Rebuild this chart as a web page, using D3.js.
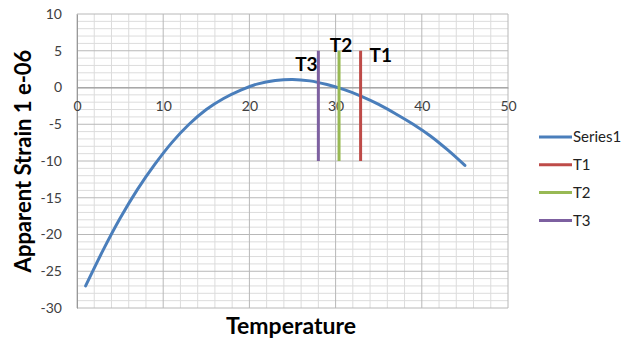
<!DOCTYPE html>
<html>
<head>
<meta charset="utf-8">
<script src="https://cdn.jsdelivr.net/npm/d3@7"></script>
<style>
  body { margin: 0; background: #fff; }
  svg text { font-family: Lato, "Open Sans", sans-serif; }
</style>
</head>
<body>
<div id="chart-container"></div>
<script>
// Series1 curve (temperature vs apparent strain)
const temps = [1, 3, 5, 7, 9, 11, 13, 15, 17, 19, 21, 23, 25, 27, 29, 31, 33, 35, 37, 39, 41, 43, 45];
const strain = [-27.0, -22.2, -17.8, -13.9, -10.5, -7.5, -5.0, -3.0, -1.5, -0.35, 0.5, 0.95, 1.1, 0.9, 0.4, -0.3, -1.2, -2.3, -3.6, -5.0, -6.6, -8.5, -10.6];

// vertical marker lines
const markerNames = ["T1", "T2", "T3"];
const markerTemps = [32.9, 30.4, 28.0];
const markerTop = 5;
const markerBottom = -10;

const xTicks = [0, 10, 20, 30, 40, 50];
const yTicks = [10, 5, 0, -5, -10, -15, -20, -25, -30];
const legendNames = ["Series1", "T1", "T2", "T3"];

const colors = {Series1: "#4a7ebb", T1: "#be4b48", T2: "#98b954", T3: "#7d60a0"};

const width = 629, height = 339;
const plot = {left: 77, right: 508, top: 14, bottom: 308};

const svg = d3.select("#chart-container")
    .append("svg")
    .attr("width", width)
    .attr("height", height);

const x = d3.scaleLinear().domain([0, 50]).range([plot.left, plot.right]);
const y = d3.scaleLinear().domain([-30, 10]).range([plot.bottom, plot.top]);

// minor grid
svg.append("g")
    .selectAll("line")
    .data(d3.range(-30, 11, 1).filter(v => v % 5 !== 0))
    .enter().append("line")
    .attr("x1", plot.left).attr("x2", plot.right)
    .attr("y1", d => y(d)).attr("y2", d => y(d))
    .attr("stroke", "#dcdcdc").attr("stroke-width", 1);

svg.append("g")
    .selectAll("line")
    .data(d3.range(0, 51, 2).filter(v => v % 10 !== 0))
    .enter().append("line")
    .attr("y1", plot.top).attr("y2", plot.bottom)
    .attr("x1", d => x(d)).attr("x2", d => x(d))
    .attr("stroke", "#dcdcdc").attr("stroke-width", 1);

// major grid
svg.append("g")
    .selectAll("line")
    .data(yTicks)
    .enter().append("line")
    .attr("x1", plot.left).attr("x2", plot.right)
    .attr("y1", d => y(d)).attr("y2", d => y(d))
    .attr("stroke", "#b8b8b8").attr("stroke-width", 1);

svg.append("g")
    .selectAll("line")
    .data(xTicks)
    .enter().append("line")
    .attr("y1", plot.top).attr("y2", plot.bottom)
    .attr("x1", d => x(d)).attr("x2", d => x(d))
    .attr("stroke", "#b8b8b8").attr("stroke-width", 1);

// axes (plain hyphen for negatives, like the original)
const yAxis = svg.append("g")
    .attr("transform", `translate(${plot.left},0)`)
    .call(d3.axisLeft(y).tickValues(yTicks).tickFormat(d => String(d)).tickSize(0).tickPadding(15));
yAxis.select(".domain").attr("stroke", "#999");
yAxis.selectAll("text").style("font-size", "14px").attr("fill", "#404040");

const xAxis = svg.append("g")
    .attr("transform", `translate(0,${y(0)})`)
    .call(d3.axisBottom(x).tickValues(xTicks).tickFormat(d => String(d)).tickSize(0).tickPadding(14));
xAxis.select(".domain").attr("stroke", "#999");
xAxis.selectAll("text").style("font-size", "14px").attr("fill", "#404040");

// series line
const line = d3.line()
    .x((d, i) => x(temps[i]))
    .y(d => y(d))
    .curve(d3.curveCatmullRom);

svg.append("path")
    .datum(strain)
    .attr("d", line)
    .attr("fill", "none")
    .attr("stroke", colors.Series1)
    .attr("stroke-width", 3)
    .attr("stroke-linecap", "round");

// marker lines
svg.append("g")
    .selectAll("line")
    .data(markerNames)
    .enter().append("line")
    .attr("x1", (d, i) => x(markerTemps[i]))
    .attr("x2", (d, i) => x(markerTemps[i]))
    .attr("y1", y(markerTop))
    .attr("y2", y(markerBottom))
    .attr("stroke", d => colors[d])
    .attr("stroke-width", 3);

// marker labels (offsets as in the picture)
const labelPos = {T1: [9, 11], T2: [2, 1], T3: [-12, 20]};
svg.append("g")
    .selectAll("text")
    .data(markerNames)
    .enter().append("text")
    .attr("x", (d, i) => x(markerTemps[i]) + labelPos[d][0])
    .attr("y", d => y(markerTop) + labelPos[d][1])
    .attr("text-anchor", d => d === "T1" ? "start" : "middle")
    .style("font-size", "19px")
    .style("font-weight", "bold")
    .attr("fill", "#000")
    .text(d => d);

// axis titles
svg.append("text")
    .attr("x", 291)
    .attr("y", 334)
    .attr("text-anchor", "middle")
    .style("font-size", "23px")
    .style("font-weight", "bold")
    .attr("fill", "#000")
    .text("Temperature");

svg.append("text")
    .attr("transform", "translate(31,161) rotate(-90)")
    .attr("text-anchor", "middle")
    .style("font-size", "22px")
    .style("font-weight", "bold")
    .attr("fill", "#000")
    .text("Apparent Strain 1 e-06");

// legend
const legend = svg.append("g")
    .selectAll("g")
    .data(legendNames)
    .enter().append("g")
    .attr("transform", (d, i) => `translate(539,${137 + i * 27.8})`);

legend.append("line")
    .attr("x1", 0).attr("x2", 33)
    .attr("stroke", d => colors[d])
    .attr("stroke-width", 3);

legend.append("text")
    .attr("x", 34)
    .attr("dy", "0.35em")
    .style("font-size", "15px")
    .attr("fill", "#222")
    .text(d => d);
</script>
</body>
</html>
